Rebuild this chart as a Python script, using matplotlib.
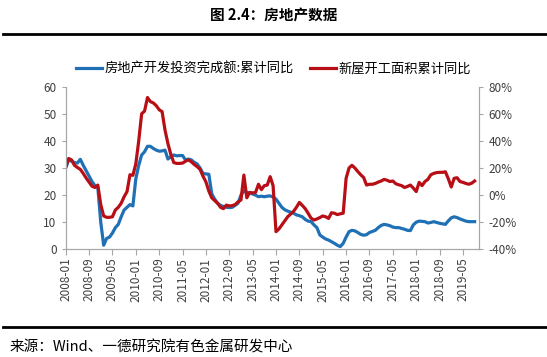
import matplotlib
matplotlib.use('Agg')
import matplotlib.pyplot as plt
import pandas as pd

plt.rcParams['font.family'] = ['Noto Sans CJK SC', 'DejaVu Sans']

# 房地产开发投资完成额:累计同比 (left axis)
invest = [30, 33, 32.5, 32, 31.8, 33.2, 31, 29, 27, 25,
          23.5, 22.8, 10, 1.5, 4, 4.5, 6, 8, 9.2, 12,
          14.5, 15.5, 16.5, 16, 26, 31, 34.8, 36, 38, 38,
          37.2, 36.6, 36.2, 36.3, 36.6, 33.3, 34.2, 34.8, 34.5, 34.6,
          34.6, 33, 33.3, 33, 32.1, 31.5, 30, 28, 27.8, 27.7,
          20.5, 18.5, 17, 16.2, 15.8, 15.5, 15.4, 15.5, 16.2, 17,
          20, 21.5, 21, 20.8, 20.4, 20, 19.4, 19.6, 19.4, 19.6,
          19.7, 19.3, 18.5, 17, 15.5, 14.6, 14.1, 13.7, 13.3, 12.7,
          12.4, 12, 11, 10.4, 10.2, 9, 8, 5.3, 4.5, 3.8,
          3.4, 2.8, 2.2, 1.5, 1, 2.2, 4.5, 6.5, 7, 6.8,
          6.2, 5.5, 5.2, 5.4, 6.2, 6.6, 7, 8, 8.8, 9.2,
          9, 8.7, 8.2, 8, 8, 7.7, 7.4, 7, 6.9, 9,
          10, 10.4, 10.3, 10.2, 9.7, 9.9, 10.2, 9.9, 9.6, 9.4,
          9.2, 10.5, 11.6, 12, 11.7, 11.2, 10.8, 10.4, 10.2, 10.2,
          10.2]

# 新屋开工面积累计同比 (right axis, %)
starts = [20.6, 27, 26, 22, 20.4, 19, 16, 12.6, 9.6, 6.6,
          5.6, 7.4, -7, -15.4, -16.4, -16.4, -16, -11, -9, -6,
          -1.2, 2.6, 15, 14.6, 23, 40, 60, 62, 72, 69,
          68, 66, 63, 61.6, 48, 38, 30, 24, 23.4, 23.4,
          23.6, 25, 26, 24.6, 22.6, 21, 19, 14, 9.8, 3,
          -2, -4, -6, -9, -10, -7.4, -8, -7.8, -7, -5,
          -3.6, 14.8, -2, 2, 1.6, 2, 8, 4, 7, 7.4,
          13.6, 7, -27, -25, -22, -19, -16, -14, -12, -9,
          -5.4, -7.6, -10, -13.4, -17, -18.4, -17.6, -16.6, -15.4, -16,
          -17.2, -13, -13.4, -14.4, -13.8, -13.4, 12.4, 20, 22, 20,
          17.4, 15, 13, 7.4, 8, 8, 8.6, 9.6, 10.4, 11.6,
          11, 10, 10.4, 8.4, 7.6, 7, 5.6, 6.4, 7.4, 5.2,
          2.6, 9.4, 7, 10, 11.6, 15, 16, 16.6, 16.8, 16.8,
          17.2, 12, 6, 12.4, 12.8, 10, 9.4, 8.6, 8, 8.8,
          10.4]

months = pd.date_range('2008-01', periods=len(invest), freq='MS')
labels = [d.strftime('%Y-%m') for d in months]
x = list(range(len(invest)))

blue = '#1F70B5'
red = '#B80F16'
grey = '#A6A6A6'

fig = plt.figure(figsize=(5.47, 3.57), dpi=100)
fig.patch.set_facecolor('white')

# title and rules
fig.text(0.5, 1 - 15/357, '图 2.4：房地产数据', ha='center', va='center',
         fontsize=10.5, fontweight='heavy')
fig.add_artist(plt.Line2D([0.005, 1], [1 - 33.5/357] * 2, color='black', lw=2))
fig.add_artist(plt.Line2D([0.005, 1], [1 - 327/357] * 2, color='black', lw=2))
fig.text(10/547, 1 - 347/357, '来源：Wind、一德研究院有色金属研发中心', ha='left',
         va='center', fontsize=10.5)

ax = fig.add_axes([65.7/547, 1 - 249.3/357, (479.3 - 65.7)/547, (249.3 - 86.7)/357])
ax2 = ax.twinx()

l1, = ax.plot(x, invest, color=blue, lw=2.3, solid_joinstyle='round')
l2, = ax2.plot(x, starts, color=red, lw=2.3, solid_joinstyle='round')

ax.set_xlim(0, 141.6)
ax.set_ylim(0, 60)
ax2.set_ylim(-40, 80)
ax.set_yticks(range(0, 61, 10))
ax2.set_yticks(range(-40, 81, 20))
ax2.set_yticklabels([f'{v}%' for v in range(-40, 81, 20)])
ax.set_xticks(x[::8])
ax.set_xticklabels(labels[::8], rotation=90)

for a in (ax, ax2):
    a.spines['top'].set_visible(False)
    for s in ('left', 'right', 'bottom'):
        a.spines[s].set_color(grey)
        a.spines[s].set_linewidth(0.8)
    a.tick_params(colors=grey, labelcolor='#404040', labelsize=8.5, length=3, width=0.8)
ax.tick_params(axis='x', length=4, pad=2)

fig.legend([l1, l2], ['房地产开发投资完成额:累计同比', '新屋开工面积累计同比'],
           loc='center', bbox_to_anchor=(0.5, 1 - 69.5/357), ncol=2, frameon=False,
           fontsize=9.5, handlelength=2.0, handletextpad=0.2, columnspacing=1.2)

fig.savefig('out.png', dpi=100)
